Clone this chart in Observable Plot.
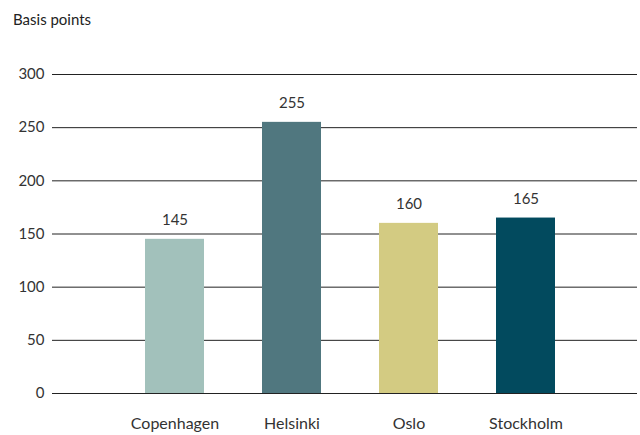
<!DOCTYPE html>
<html><head><meta charset="utf-8">
<script src="https://cdn.jsdelivr.net/npm/d3@7"></script>
<script src="https://cdn.jsdelivr.net/npm/@observablehq/plot@0.6"></script>
<style>
body{margin:0;background:#fff;font-family:Lato,"Open Sans",sans-serif;}
#wrap{position:relative;width:640px;height:435px;}
#title{position:absolute;left:13px;top:10px;font-size:15px;color:#222;}
</style></head><body>
<div id="wrap"><div id="title">Basis points</div></div>
<script>
const cities = ["Copenhagen","Helsinki","Oslo","Stockholm"];
const values = [145,255,160,165];
const colors = ["#a2c1bb","#50777f","#d3cb82","#024a5e"];
const yTicks = [0,50,100,150,200,250,300];
const data = cities.map((c,i)=>({city:c,value:values[i],color:colors[i]}));
const chart = Plot.plot({
  width:640,height:435,
  marginTop:74,marginBottom:42,marginLeft:52,marginRight:3,
  style:{fontFamily:"Lato, 'Open Sans', sans-serif",fontSize:"15px",color:"#333"},
  x:{domain:cities,paddingInner:0.5,paddingOuter:0.75,align:0.53,label:null,tickSize:0,tickPadding:24},
  y:{domain:[0,300],ticks:yTicks,label:null,tickSize:0,tickPadding:8},
  marks:[
    Plot.ruleY(yTicks,{stroke:"#222",strokeWidth:1,strokeOpacity:1}),
    Plot.barY(data,{x:"city",y:"value",fill:"color"}),
    Plot.text(data,{x:"city",y:"value",text:d=>String(d.value),dy:-19,fill:"#333",fontSize:15}),
    Plot.axisX({tickSize:0,tickPadding:24,fontSize:16,label:null})
  ]
});
document.getElementById("wrap").appendChild(chart);
</script>
</body></html>
